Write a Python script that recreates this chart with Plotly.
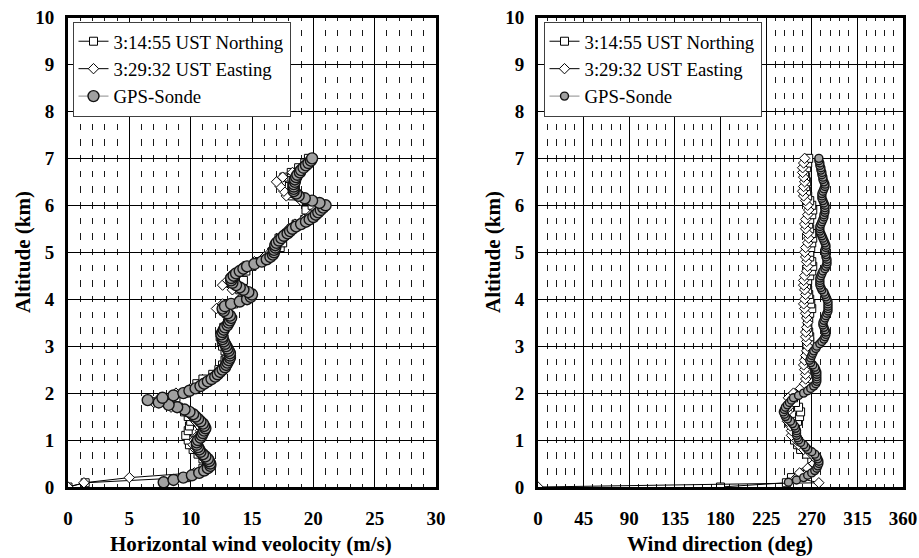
import plotly.graph_objects as go

# ---------------- data ----------------
ALT_RADAR = [0.0, 0.09, 0.2, 0.3, 0.4, 0.5, 0.6, 0.7, 0.8, 0.9,
             1.0, 1.1, 1.2, 1.3, 1.4, 1.5, 1.6, 1.7, 1.8, 1.9,
             2.0, 2.1, 2.2, 2.3, 2.4, 2.5, 2.6, 2.7, 2.8, 2.9,
             3.0, 3.1, 3.2, 3.3, 3.4, 3.5, 3.6, 3.7, 3.8, 3.9,
             4.0, 4.1, 4.2, 4.3, 4.4, 4.5, 4.6, 4.7, 4.8, 4.9,
             5.0, 5.1, 5.2, 5.3, 5.4, 5.5, 5.6, 5.7, 5.8, 5.9,
             6.0, 6.1, 6.2, 6.3, 6.4, 6.5, 6.6, 6.7, 6.8, 6.9,
             7.0]

NORTHING_SPEED = [0.0, 1.4, 9.6, 10.5, 11.0, 11.3, 11.0, 10.6, 10.2, 9.9,
                  9.8, 9.6, 9.8, 9.9, 10.0, 9.8, 9.5, 9.0, 8.5, 8.8,
                  9.6, 10.4, 10.5, 11.0, 11.8, 12.3, 12.6, 12.8, 12.9, 12.8,
                  12.6, 12.5, 12.4, 12.6, 12.7, 13.0, 13.2, 12.9, 12.8, 13.5,
                  14.2, 14.5, 14.0, 13.9, 14.3, 13.6, 14.5, 15.0, 15.6, 16.2,
                  16.6, 17.3, 17.5, 17.2, 17.8, 18.2, 18.6, 19.3, 19.6, 19.4,
                  19.9, 19.2, 18.3, 18.0, 17.6, 17.4, 17.6, 18.2, 18.8, 19.3,
                  19.6]

EASTING_SPEED = [0.0, 1.3, 5.0, 10.3, 11.2, 11.5, 11.1, 10.8, 10.4, 10.2,
                 10.3, 10.6, 10.8, 10.7, 10.4, 10.1, 9.6, 8.4, 7.0, 7.5,
                 8.8, 10.0, 11.0, 11.5, 12.0, 12.5, 12.8, 13.0, 13.1, 13.0,
                 12.8, 12.6, 12.5, 12.5, 12.7, 13.0, 13.2, 12.8, 12.1, 12.6,
                 14.0, 14.6, 13.4, 12.6, 13.0, 13.3, 13.9, 14.3, 15.2, 16.0,
                 16.5, 16.8, 17.0, 17.4, 17.7, 18.0, 18.5, 19.2, 19.8, 20.2,
                 20.5, 19.0, 17.8, 17.6, 17.3, 17.0, 17.5, 18.3, 19.0, 19.5,
                 19.8]

NORTHING_DIR = [180, 245, 250, 262, 270, 272, 270, 265, 259, 256,
                253, 253, 252, 254, 256, 258, 259, 257, 254, 252,
                257, 263, 266, 267, 266, 265, 264, 264, 265, 266,
                267, 268, 268, 267, 266, 266, 267, 268, 270, 269,
                268, 267, 266, 265, 266, 268, 270, 271, 270, 268,
                268, 269, 270, 271, 270, 268, 267, 268, 270, 271,
                270, 268, 266, 265, 264, 265, 264, 263, 265, 266,
                267]

EASTING_DIR = [0, 277, 255, 258, 266, 272, 274, 270, 262, 257,
               255, 250, 250, 249, 246, 245, 246, 247, 248, 247,
               252, 259, 263, 264, 264, 263, 262, 263, 264, 265,
               266, 265, 264, 264, 265, 266, 265, 264, 263, 262,
               263, 264, 263, 262, 262, 263, 265, 266, 265, 264,
               263, 264, 266, 267, 266, 264, 263, 264, 266, 267,
               266, 264, 262, 261, 262, 263, 262, 261, 261, 262,
               263]

ALT_SONDE = [0.10, 0.15, 0.20, 0.25, 0.30, 0.35, 0.40, 0.45, 0.50, 0.55,
             0.60, 0.65, 0.70, 0.75, 0.80, 0.85, 0.90, 0.95, 1.00, 1.05,
             1.10, 1.15, 1.20, 1.25, 1.30, 1.35, 1.40, 1.45, 1.50, 1.55,
             1.60, 1.65, 1.70, 1.75, 1.80, 1.85, 1.90, 1.95, 2.00, 2.05,
             2.10, 2.15, 2.20, 2.25, 2.30, 2.35, 2.40, 2.45, 2.50, 2.55,
             2.60, 2.65, 2.70, 2.75, 2.80, 2.85, 2.90, 2.95, 3.00, 3.05,
             3.10, 3.15, 3.20, 3.25, 3.30, 3.35, 3.40, 3.45, 3.50, 3.55,
             3.60, 3.65, 3.70, 3.75, 3.80, 3.85, 3.90, 3.95, 4.00, 4.05,
             4.10, 4.15, 4.20, 4.25, 4.30, 4.35, 4.40, 4.45, 4.50, 4.55,
             4.60, 4.65, 4.70, 4.75, 4.80, 4.85, 4.90, 4.95, 5.00, 5.05,
             5.10, 5.15, 5.20, 5.25, 5.30, 5.35, 5.40, 5.45, 5.50, 5.55,
             5.60, 5.65, 5.70, 5.75, 5.80, 5.85, 5.90, 5.95, 6.00, 6.05,
             6.10, 6.15, 6.20, 6.25, 6.30, 6.35, 6.40, 6.45, 6.50, 6.55,
             6.60, 6.65, 6.70, 6.75, 6.80, 6.85, 6.90, 6.95, 7.00]

SONDE_SPEED = [7.8, 8.6, 9.4, 10.1, 10.7, 11.1, 11.4, 11.6, 11.6, 11.5,
               11.4, 11.2, 11.0, 10.8, 10.7, 10.6, 10.5, 10.5, 10.6, 10.8,
               10.9, 11.0, 11.1, 11.2, 11.1, 11.0, 10.8, 10.6, 10.4, 10.2,
               9.9, 9.5, 8.9, 8.2, 7.4, 6.5, 7.7, 8.6, 9.4, 9.9,
               10.4, 10.8, 11.1, 11.4, 11.7, 12.0, 12.2, 12.4, 12.6, 12.8,
               12.9, 13.0, 13.1, 13.2, 13.2, 13.2, 13.1, 13.0, 12.9, 12.8,
               12.7, 12.6, 12.6, 12.5, 12.6, 12.7, 12.8, 13.0, 13.1, 13.2,
               13.3, 13.2, 13.0, 12.7, 12.6, 12.8, 13.3, 14.0, 14.6, 14.9,
               15.0, 14.7, 14.3, 14.0, 13.7, 13.4, 13.3, 13.3, 13.5, 13.7,
               14.0, 14.3, 14.6, 15.2, 15.8, 16.2, 16.5, 16.7, 16.8, 16.8,
               16.9, 16.9, 17.0, 17.2, 17.4, 17.6, 17.9, 18.1, 18.3, 18.6,
               19.0, 19.4, 19.7, 20.0, 20.2, 20.4, 20.6, 20.8, 21.0, 20.5,
               19.9, 19.3, 18.8, 18.6, 18.4, 18.4, 18.4, 18.4, 18.5, 18.5,
               18.6, 18.7, 18.9, 19.0, 19.2, 19.4, 19.6, 19.8, 19.9]

SONDE_DIR = [247, 255, 262, 266, 270, 273, 275, 276, 277, 277,
             276, 275, 273, 270, 266, 264, 262, 259, 257, 256,
             255, 255, 255, 254, 253, 251, 249, 246, 244, 243,
             242, 243, 244, 246, 248, 250, 252, 257, 262, 266,
             269, 272, 274, 275, 275, 275, 275, 275, 274, 273,
             271, 269, 268, 269, 270, 271, 272, 274, 275, 278,
             280, 282, 283, 284, 284, 283, 282, 281, 281, 282,
             283, 284, 285, 286, 286, 286, 286, 286, 285, 284,
             283, 282, 280, 279, 278, 278, 278, 278, 279, 280,
             281, 283, 284, 285, 285, 285, 284, 284, 283, 283,
             284, 284, 283, 282, 281, 280, 279, 278, 278, 278,
             279, 280, 281, 282, 282, 283, 283, 283, 283, 282,
             281, 280, 280, 280, 281, 282, 283, 283, 282, 281,
             281, 280, 280, 279, 279, 278, 278, 277, 277]

NAMES = ["3:14:55 UST Northing", "3:29:32 UST Easting", "GPS-Sonde"]
X_TITLES = ["Horizontal wind veolocity (m/s)", "Wind direction (deg)"]
Y_TITLE = "Altitude (km)"

# ---------------- figure ----------------
W, H = 919, 558
SERIF = "Liberation Serif"

def px_x(p):
    return p / W

def px_y(p):
    return 1 - p / H

fig = go.Figure()

def add_panel(xa, ya, leg, x_n, x_e, x_s, sonde_size):
    fig.add_trace(go.Scatter(
        x=x_n, y=ALT_RADAR, name=NAMES[0], mode="lines+markers",
        line=dict(color="black", width=1),
        marker=dict(symbol="square", size=8, color="white",
                    line=dict(color="black", width=1)),
        xaxis=xa, yaxis=ya, legend=leg))
    fig.add_trace(go.Scatter(
        x=x_e, y=ALT_RADAR, name=NAMES[1], mode="lines+markers",
        line=dict(color="black", width=1),
        marker=dict(symbol="diamond", size=8, color="white",
                    line=dict(color="black", width=1)),
        xaxis=xa, yaxis=ya, legend=leg))
    fig.add_trace(go.Scatter(
        x=x_s, y=ALT_SONDE, name=NAMES[2], mode="lines+markers",
        line=dict(color="#8c8c8c", width=1),
        marker=dict(symbol="circle", size=sonde_size, color="#a0a0a0",
                    line=dict(color="#141414", width=1.4)),
        xaxis=xa, yaxis=ya, legend=leg))

add_panel("x", "y", "legend", NORTHING_SPEED, EASTING_SPEED, SONDE_SPEED, 11)
add_panel("x2", "y2", "legend2", NORTHING_DIR, EASTING_DIR, SONDE_DIR, 8)

DOM_Y = [px_y(487), px_y(17.5)]
DOM_X1 = [px_x(68), px_x(436)]
DOM_X2 = [px_x(538), px_x(903)]

tickfont = dict(family=SERIF, size=19, color="black", weight="bold")
dash_pattern = "3.25px,9.15px,3.25px,0px"

def xaxis_cfg(domain, rng, dtick, minor_dtick):
    return dict(
        domain=domain, range=rng, dtick=dtick, tick0=0, automargin=False,
        showline=True, linecolor="black", linewidth=3, mirror=True,
        showgrid=True, gridcolor="black", gridwidth=1,
        zeroline=False, ticks="", tickfont=tickfont,
        ticklabelstandoff=12,
        minor=dict(dtick=minor_dtick, tick0=0, showgrid=True,
                   gridcolor="#1a1a1a", gridwidth=1, griddash=dash_pattern),
        fixedrange=True)

def yaxis_cfg(anchor):
    return dict(
        domain=DOM_Y, range=[0, 10], dtick=1, tick0=0, anchor=anchor,
        automargin=False,
        showline=True, linecolor="black", linewidth=3, mirror=True,
        showgrid=True, gridcolor="black", gridwidth=1,
        zeroline=False, ticks="", tickfont=tickfont,
        ticklabelstandoff=7, fixedrange=True)

legend_common = dict(
    xanchor="left", yanchor="top",
    bgcolor="white", bordercolor="#404040", borderwidth=1,
    font=dict(family=SERIF, size=18.8, color="black"),
    itemwidth=30, tracegroupgap=0, traceorder="normal")

fig.update_layout(
    width=W, height=H, autosize=False,
    margin=dict(l=0, r=0, t=0, b=0, pad=0, autoexpand=False),
    paper_bgcolor="white", plot_bgcolor="white",
    xaxis=xaxis_cfg(DOM_X1, [0, 30], 5, 1) | dict(anchor="y"),
    yaxis=yaxis_cfg("x"),
    xaxis2=xaxis_cfg(DOM_X2, [0, 360], 45, 9) | dict(anchor="y2"),
    yaxis2=yaxis_cfg("x2"),
    legend=legend_common | dict(x=px_x(72.5), y=px_y(21.5)),
    legend2=legend_common | dict(x=px_x(543.5), y=px_y(21.5)),
)

title_font = dict(family=SERIF, size=21, color="black", weight="bold")
annotations = [
    dict(text=X_TITLES[0], x=px_x(251), y=px_y(544), xref="paper", yref="paper",
         showarrow=False, font=title_font, xanchor="center", yanchor="middle"),
    dict(text=X_TITLES[1], x=px_x(720), y=px_y(544), xref="paper", yref="paper",
         showarrow=False, font=title_font, xanchor="center", yanchor="middle"),
    dict(text=Y_TITLE, x=px_x(23), y=px_y(252), xref="paper", yref="paper",
         showarrow=False, font=title_font, textangle=-90,
         xanchor="center", yanchor="middle"),
    dict(text=Y_TITLE, x=px_x(493), y=px_y(252), xref="paper", yref="paper",
         showarrow=False, font=title_font, textangle=-90,
         xanchor="center", yanchor="middle"),
]
fig.update_layout(annotations=annotations)

fig.write_html(
    "out.html",
    config={"responsive": False, "displayModeBar": False},
    post_script="document.body.style.margin='0';document.body.style.overflow='hidden';",
)
